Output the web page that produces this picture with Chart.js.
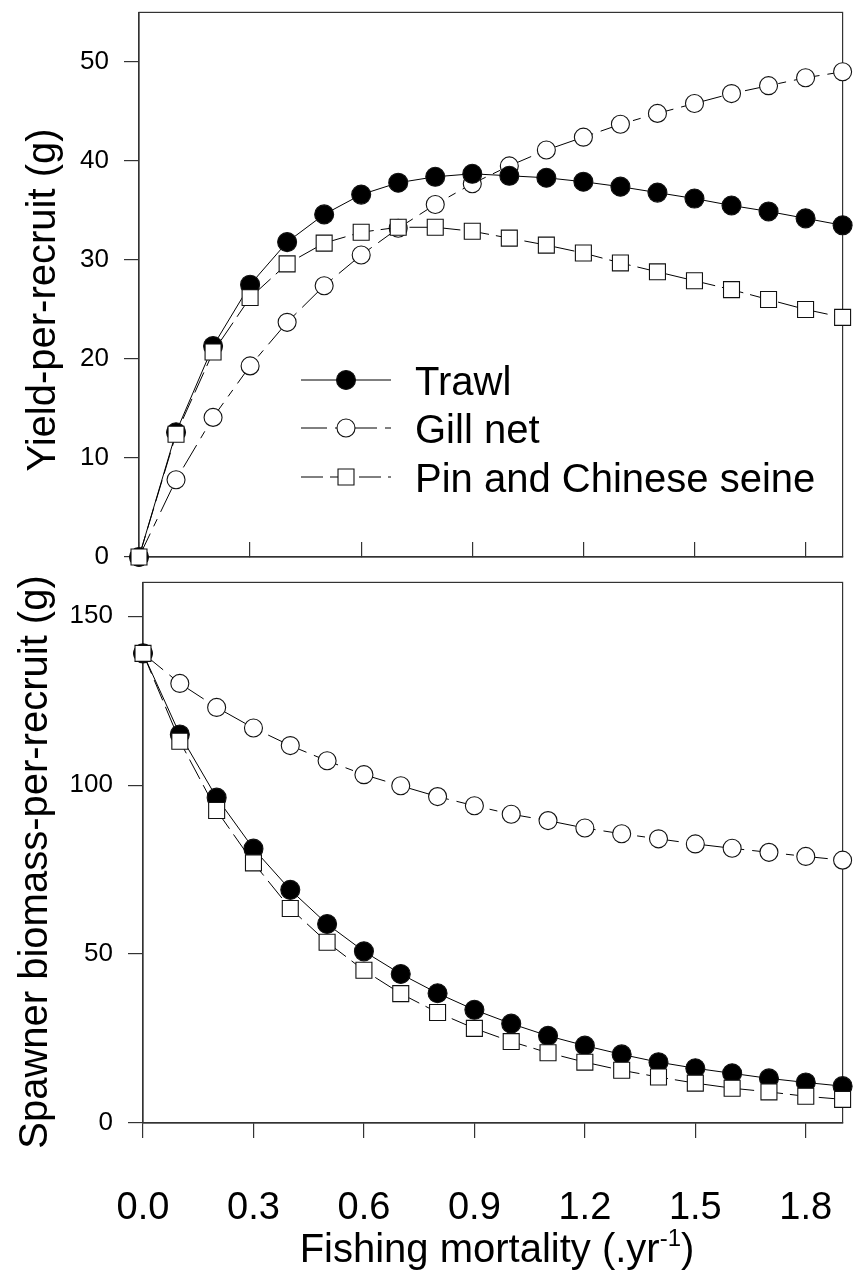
<!DOCTYPE html>
<html>
<head>
<meta charset="utf-8">
<title>Yield and spawner biomass per recruit</title>
<script src="https://cdn.jsdelivr.net/npm/chart.js@4.4.0/dist/chart.umd.min.js"></script>
<style>
  body { margin: 0; background: #fff; overflow: hidden; }
  #page { position: relative; width: 855px; height: 1271px; font-family: 'Liberation Sans', Arial, sans-serif; color: #000; }
  #page canvas { position: absolute; left: 0; }
  .ytitle { position: absolute; width: 600px; height: 40px; line-height: 40px; font-size: 40px;
            text-align: center; white-space: nowrap; transform: rotate(-90deg); }
  .xtitle { position: absolute; left: 197px; width: 600px; top: 1228px; height: 40px; line-height: 40px;
            font-size: 40px; text-align: center; white-space: nowrap; }
  .xtitle span { font-size: 24px; position: relative; top: -16px; }
</style>
</head>
<body>
<div id="page">
  <canvas id="yprChart" width="855" height="570" style="top:0"></canvas>
  <canvas id="sbprChart" width="855" height="701" style="top:570px"></canvas>
  <div class="ytitle" style="left:-259px; top:280px">Yield-per-recruit (g)</div>
  <div class="ytitle" style="left:-267px; top:842px">Spawner biomass-per-recruit (g)</div>
  <div class="xtitle">Fishing mortality (.yr<span>-1</span>)</div>
</div>
<script>
const FONT = "'Liberation Sans', Arial, sans-serif";

// fishing mortality F (per year)
const fishingMortality = [0, 0.1, 0.2, 0.3, 0.4, 0.5, 0.6, 0.7, 0.8, 0.9,
                          1.0, 1.1, 1.2, 1.3, 1.4, 1.5, 1.6, 1.7, 1.8, 1.9];
const xTicks = [0, 0.3, 0.6, 0.9, 1.2, 1.5, 1.8];

const seriesNames = ['Trawl', 'Gill net', 'Pin and Chinese seine'];

// yield-per-recruit (g)
const yieldTrawl   = [0, 12.6, 21.3, 27.5, 31.8, 34.6, 36.6, 37.8, 38.4, 38.7,
                      38.5, 38.3, 37.9, 37.4, 36.8, 36.2, 35.5, 34.9, 34.2, 33.5];
const yieldGillNet = [0, 7.8, 14.1, 19.3, 23.7, 27.4, 30.5, 33.2, 35.6, 37.7,
                      39.5, 41.1, 42.4, 43.7, 44.8, 45.8, 46.8, 47.6, 48.4, 49.0];
const yieldPinSeine = [0, 12.4, 20.7, 26.2, 29.6, 31.7, 32.8, 33.3, 33.3, 32.9,
                       32.2, 31.5, 30.7, 29.7, 28.8, 27.9, 27.0, 26.0, 25.0, 24.2];
const yieldTicks = [0, 10, 20, 30, 40, 50];

// spawner biomass-per-recruit (g)
const sbprTrawl   = [139, 115, 96.3, 81.2, 69, 58.9, 50.8, 44.1, 38.4, 33.5,
                     29.4, 25.8, 22.9, 20.3, 18.0, 16.2, 14.7, 13.2, 12.0, 10.9];
const sbprGillNet = [139, 130.1, 123.0, 116.9, 111.7, 107.2, 103.1, 99.8, 96.6, 93.9,
                     91.4, 89.5, 87.3, 85.6, 84.1, 82.6, 81.3, 80.1, 78.9, 77.8];
const sbprPinSeine = [139, 113, 92.5, 77, 63.5, 53.5, 45.2, 38.3, 32.7, 28.0,
                      24.1, 20.8, 18.0, 15.6, 13.6, 11.8, 10.3, 9.2, 7.9, 7.0];
const sbprTicks = [0, 50, 100, 150];

const toPoints = vals => vals.map((v, i) => ({ x: fishingMortality[i], y: v }));

// marker + line styles per gear
const styles = [
  { pointStyle: 'circle', pointRadius: 9.5, pointBackgroundColor: '#000', borderDash: [], order: 1 },
  { pointStyle: 'circle', pointRadius: 9, pointBackgroundColor: '#fff', borderDash: [26, 8, 8, 8], order: 2 },
  { pointStyle: 'rect', pointRadius: 11.3, pointBackgroundColor: '#fff', borderDash: [22, 7], order: 0 }
];

function makeDatasets(series) {
  return series.map((vals, i) => Object.assign({
    label: seriesNames[i],
    data: toPoints(vals),
    borderColor: '#000',
    borderWidth: 1,
    pointBorderColor: '#111',
    pointBorderWidth: 1.1,
    pointHoverRadius: styles[i].pointRadius,
    tension: 0,
    clip: false
  }, styles[i]));
}

// full box round the plot area
const frameBox = {
  id: 'frameBox',
  beforeDatasetsDraw(chart) {
    const { ctx, chartArea: a } = chart;
    ctx.save();
    ctx.strokeStyle = '#333';
    ctx.lineWidth = 1.2;
    ctx.strokeRect(a.left, a.top, a.right - a.left, a.bottom - a.top);
    ctx.restore();
  }
};

// line-and-marker legend in the top panel
const gearLegend = {
  id: 'gearLegend',
  afterDatasetsDraw(chart) {
    const ctx = chart.ctx;
    const rows = [380, 428, 477];
    ctx.save();
    rows.forEach((y, i) => {
      const st = styles[i];
      ctx.strokeStyle = '#000';
      ctx.lineWidth = 1;
      ctx.setLineDash(st.borderDash);
      ctx.beginPath();
      ctx.moveTo(301, y);
      ctx.lineTo(391, y);
      ctx.stroke();
      ctx.setLineDash([]);
      ctx.fillStyle = st.pointBackgroundColor;
      ctx.strokeStyle = '#111';
      ctx.lineWidth = 1.1;
      Chart.helpers.drawPoint(ctx, { pointStyle: st.pointStyle, radius: st.pointRadius, rotation: 0, borderWidth: 1.1 }, 346, y);
      ctx.fillStyle = '#000';
      ctx.font = '40px ' + FONT;
      ctx.textBaseline = 'alphabetic';
      ctx.textAlign = 'left';
      ctx.fillText(seriesNames[i], 415, y + 15);
    });
    ctx.restore();
  }
};

function panelOptions(cfg) {
  return {
    responsive: false,
    animation: false,
    events: [],
    layout: { padding: { top: cfg.padTop, right: cfg.padRight, left: 0, bottom: 0 } },
    plugins: { legend: { display: false }, tooltip: { enabled: false } },
    scales: {
      x: {
        type: 'linear',
        min: 0,
        max: 1.9,
        afterBuildTicks: s => { s.ticks = xTicks.map(v => ({ value: v })); },
        ticks: {
          display: cfg.xLabels,
          font: { family: FONT, size: 38 },
          color: '#000',
          padding: 48,
          maxRotation: 0,
          callback: v => v.toFixed(1)
        },
        grid: { drawOnChartArea: false, tickLength: cfg.xTickLength, color: '#333', lineWidth: 1.2 },
        border: { color: '#333', width: 1.2 },
        afterFit: s => {
          s.height = cfg.xHeight;
          s.paddingLeft = s.paddingRight = 0;
        }
      },
      y: {
        min: 0,
        max: cfg.yMax,
        afterBuildTicks: s => { s.ticks = cfg.yTicks.map(v => ({ value: v })); },
        ticks: { font: { family: FONT, size: 26 }, color: '#000', padding: 15 },
        grid: { drawOnChartArea: false, tickLength: 15, color: '#333', lineWidth: 1.2 },
        border: { color: '#333', width: 1.2 },
        afterFit: s => {
          s.width = cfg.yWidth;
          s.paddingTop = s.paddingBottom = 0;
        }
      }
    }
  };
}

new Chart(document.getElementById('yprChart'), {
  type: 'line',
  data: { datasets: makeDatasets([yieldTrawl, yieldGillNet, yieldPinSeine]) },
  options: panelOptions({
    padTop: 11, padRight: 11, yWidth: 139, xHeight: 13,
    yMax: 55, yTicks: yieldTicks, xLabels: false, xTickLength: -15
  }),
  plugins: [frameBox, gearLegend]
});

new Chart(document.getElementById('sbprChart'), {
  type: 'line',
  data: { datasets: makeDatasets([sbprTrawl, sbprGillNet, sbprPinSeine]) },
  options: panelOptions({
    padTop: 8, padRight: 7, yWidth: 143, xHeight: 148,
    yMax: 160, yTicks: sbprTicks, xLabels: true, xTickLength: 15
  }),
  plugins: [frameBox]
});
</script>
</body>
</html>
